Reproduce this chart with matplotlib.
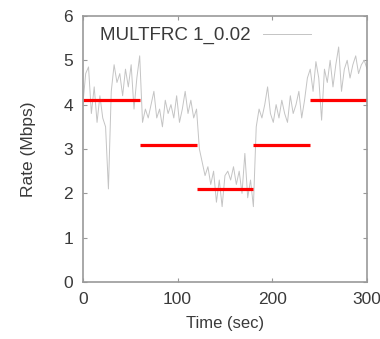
import numpy as np
import matplotlib
matplotlib.use('Agg')
import matplotlib.pyplot as plt

plt.rcParams['font.family'] = ['Liberation Sans', 'DejaVu Sans']

# Measured rate, one sample every 3 seconds (t = 0 .. 300)
time_sec = np.arange(0, 301, 3)
rate_mbps = [
    4.0, 4.7, 4.85, 3.8, 4.4, 3.6, 4.2, 3.7, 3.5, 2.1, 4.3, 4.9, 4.5, 4.7, 4.2, 4.8, 4.4, 4.9, 3.9, 4.6, 5.1,
    3.6, 3.9, 3.7, 4.0, 4.3, 3.7, 3.9, 3.5, 4.1, 3.8, 4.0, 3.7, 4.2, 3.6, 3.9, 4.3, 3.8, 4.1, 3.7, 3.9,
    3.0, 2.7, 2.4, 2.6, 2.2, 2.5, 1.8, 2.3, 1.7, 2.4, 2.5, 2.3, 2.6, 2.2, 2.5, 2.0, 2.9, 1.9, 2.3, 1.7,
    3.5, 3.9, 3.7, 4.0, 4.4, 3.8, 3.6, 4.0, 3.7, 4.1, 3.8, 3.6, 4.2, 3.8, 4.0, 4.3, 3.7, 4.1, 4.6, 4.8,
    4.3, 4.97, 4.6, 3.65, 4.8, 4.5, 5.0, 4.4, 4.9, 5.3, 4.3, 4.8, 5.0, 4.6, 4.9, 5.1, 4.7, 4.9, 5.0, 4.8,
]

# Target rate steps (start, end, level)
step_start = [0, 60, 120, 180, 240]
step_end = [60, 120, 180, 240, 300]
step_level = [4.1, 3.1, 2.1, 3.1, 4.1]

fig = plt.figure(figsize=(3.8, 3.39), dpi=100)
ax = fig.add_axes([0.218, 0.168, 0.748, 0.785])

ax.plot(time_sec, rate_mbps, color='#c4c4c4', lw=0.7, label='MULTFRC 1_0.02')
ax.hlines(step_level, step_start, step_end, colors='red', lw=2.3)

ax.set_xlim(0, 300)
ax.set_ylim(0, 6)
ax.set_xticks([0, 100, 200, 300])
ax.set_yticks(range(7))
ax.tick_params(direction='in', top=True, right=True, length=3, color='#999999',
               labelsize=12.5, labelcolor='#3a3a3a', pad=7)
for s in ax.spines.values():
    s.set_color('#999999')
    s.set_linewidth(1.2)

ax.set_xlabel('Time (sec)', fontsize=12, color='#3a3a3a', labelpad=7)
ax.set_ylabel('Rate (Mbps)', fontsize=12.5, color='#3a3a3a', labelpad=20)

leg = ax.legend(loc='upper left', bbox_to_anchor=(0.02, 1.0), frameon=False,
                fontsize=13.5, markerfirst=False, handlelength=2.6,
                handletextpad=0.65, borderaxespad=0.2, labelcolor='#3a3a3a')

fig.savefig('out.png', dpi=100)
